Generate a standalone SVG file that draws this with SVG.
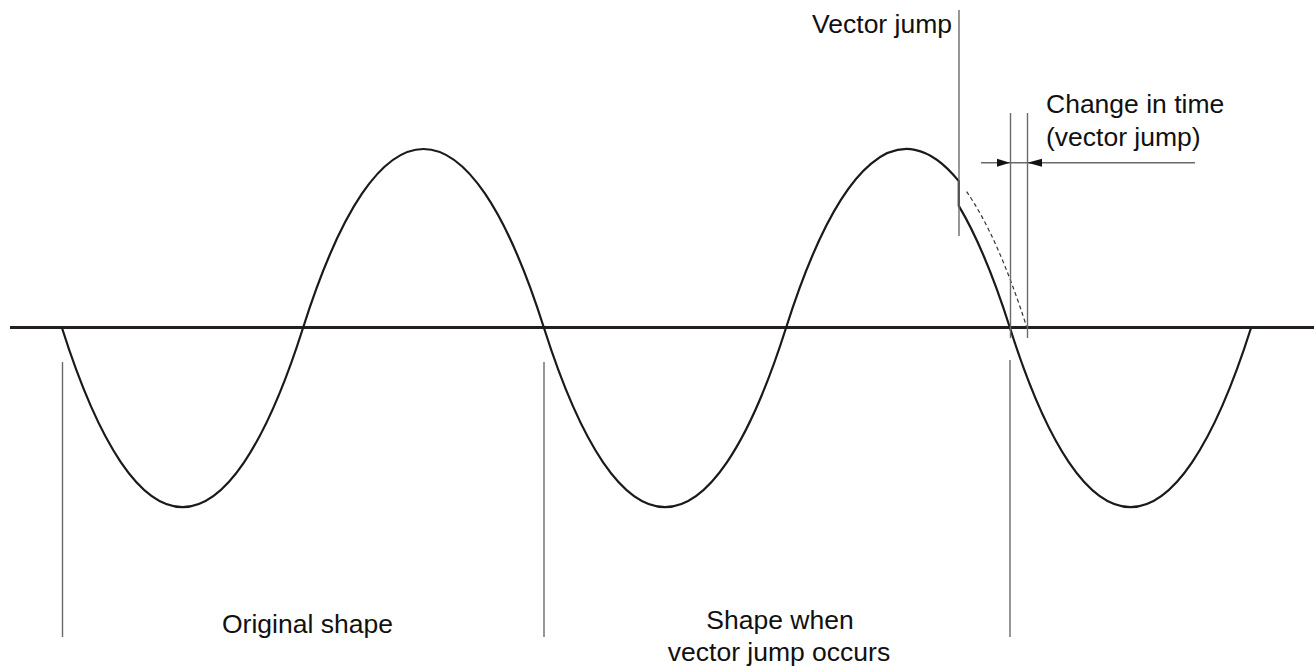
<svg xmlns="http://www.w3.org/2000/svg" width="1314" height="667" viewBox="0 0 1314 667">
  <style>
    .lbl { font-family: "Liberation Sans", Arial, sans-serif; font-size: 26.5px; fill: #111; }
    .guide { stroke: #6a6a6a; stroke-width: 1.4; fill: none; }
    .wave { stroke: #1a1a1a; stroke-width: 2.2; fill: none; stroke-linejoin: miter; }
    .dash { stroke: #333; stroke-width: 1.2; fill: none; stroke-dasharray: 4 3; }
    .axis { stroke: #231f20; stroke-width: 3; }
    .head { fill: #111; }
  </style>
  <rect width="1314" height="667" fill="#ffffff"/>

  <g id="axis">
    <line class="axis" x1="10" y1="327.5" x2="1314" y2="327.5"/>
  </g>

  <g id="wave">
    <path class="wave" d="M62,328 C137.7,566.7 227.3,566.7 303,328 C378.7,89.3 468.3,89.3 544,328 C619.7,566.7 710.3,566.7 786,328 C839.9,158.05 900.85,109.1 958.8,181.15 L958.8,205.9 C976.3,235.3 993.5,276 1010,328 C1085.7,566.7 1175.3,566.7 1251,328"/>
    <path class="dash" d="M966.6,191.6 C987.3,221.4 1007.6,266.9 1027,328"/>
  </g>

  <g id="connectors">
    <line class="guide" x1="62.5" y1="362" x2="62.5" y2="637"/>
    <line class="guide" x1="544" y1="362" x2="544" y2="637"/>
    <line class="guide" x1="1010" y1="360" x2="1010" y2="637"/>
    <line class="guide" x1="959" y1="10" x2="959" y2="236"/>
    <line class="guide" x1="1010.5" y1="113" x2="1010.5" y2="338"/>
    <line class="guide" x1="1027.5" y1="113" x2="1027.5" y2="338"/>
    <line class="guide" x1="981" y1="162.7" x2="1195" y2="162.7"/>
    <polygon class="head" points="1010,162.7 997,158.7 997,166.7"/>
    <polygon class="head" points="1027.5,162.7 1042,158.7 1042,166.7"/>
  </g>

  <g id="label-vector-jump">
    <text class="lbl" x="952" y="33" text-anchor="end">Vector jump</text>
  </g>
  <g id="label-change-in-time">
    <text class="lbl" x="1046" y="113">Change in time</text>
    <text class="lbl" x="1046" y="146">(vector jump)</text>
  </g>
  <g id="label-original">
    <text class="lbl" x="222" y="633">Original shape</text>
  </g>
  <g id="label-shape-when">
    <text class="lbl" x="780" y="629" text-anchor="middle">Shape when</text>
    <text class="lbl" x="779" y="661" text-anchor="middle">vector jump occurs</text>
  </g>
</svg>
